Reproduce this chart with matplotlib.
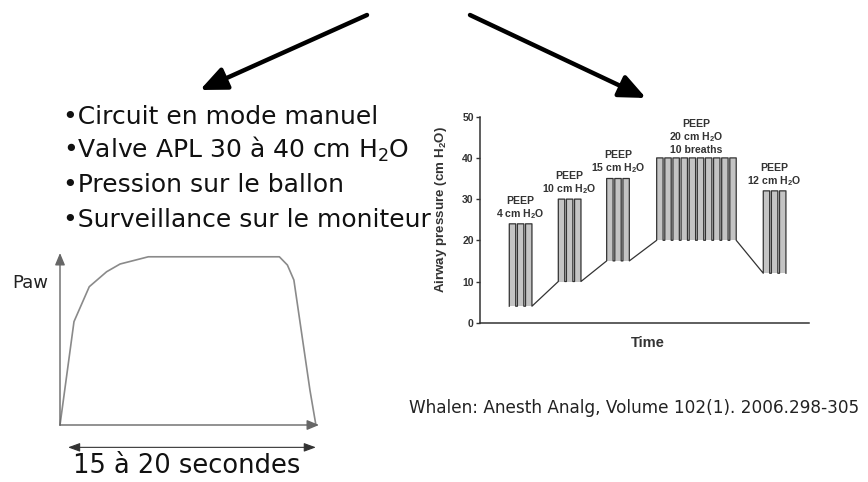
import matplotlib
matplotlib.use("Agg")
import matplotlib.pyplot as plt
import numpy as np

plt.rcParams["mathtext.default"] = "regular"

# --- data: right chart (Whalen recruitment manoeuvre) ---
group_start = [8.9, 23.8, 38.5, 53.7, 86.1]     # time (arbitrary units)
peep = [4, 10, 15, 20, 12]                      # cm H2O
peak = [24, 30, 35, 40, 32]                     # cm H2O
n_breaths = [3, 3, 3, 10, 3]
group_labels = [
    "PEEP\n4 cm H$_2$O",
    "PEEP\n10 cm H$_2$O",
    "PEEP\n15 cm H$_2$O",
    "PEEP\n20 cm H$_2$O\n10 breaths",
    "PEEP\n12 cm H$_2$O",
]
breath_len = 1.95
pause_len = 0.52
y_ticks = [0, 10, 20, 30, 40, 50]

# --- data: left sketch (Paw vs time) ---
paw_t = [0, 5.4, 11.3, 18.0, 23.2, 34.1, 84.7, 87.8, 90.3, 96.5, 98.8]
paw_p = [0, 60.1, 80.4, 89.1, 93.6, 97.8, 97.8, 93.0, 84.3, 20.3, 0]

bullets = [
    "•Circuit en mode manuel",
    "•Valve APL 30 à 40 cm H$_2$O",
    "•Pression sur le ballon",
    "•Surveillance sur le moniteur",
]
citation = "Whalen: Anesth Analg, Volume 102(1). 2006.298-305"

fig = plt.figure(figsize=(8.68, 4.82), dpi=100)

# background axes in pixel coordinates for the slide text and arrows
bg = fig.add_axes([0, 0, 1, 1])
bg.set_xlim(0, 868)
bg.set_ylim(482, 0)
bg.axis("off")

arrow_kw = dict(arrowstyle="-|>,head_length=0.8,head_width=0.35",
                lw=3.2, color="black", mutation_scale=20,
                shrinkA=0, shrinkB=0)
bg.annotate("", xy=(200, 90), xytext=(367, 15), arrowprops=arrow_kw)
bg.annotate("", xy=(646, 98), xytext=(470, 15), arrowprops=arrow_kw)

baselines = [123.5, 158, 192.5, 227]
for txt, yb in zip(bullets, baselines):
    bg.text(63, yb, txt, fontsize=18, family="DejaVu Sans",
            color="#111", ha="left", va="baseline")

bg.text(409, 413.3, citation, fontsize=12.2, family="DejaVu Sans",
        color="#222", ha="left", va="baseline")

# --- right chart ---
ax = fig.add_axes([480 / 868, (482 - 322.7) / 482, 329 / 868, 206 / 482])
ax.set_facecolor("none")
ax.set_xlim(0, 100)
ax.set_ylim(0, 50)

xs, ys = [], []
for t0, lo, hi, n, lab in zip(group_start, peep, peak, n_breaths, group_labels):
    t = t0
    for i in range(n):
        ax.fill_between([t, t + breath_len], lo, hi, color="#c4c4c4", lw=0)
        xs += [t, t, t + breath_len, t + breath_len]
        ys += [lo, hi, hi, lo]
        t += breath_len
        if i < n - 1:
            t += pause_len
    mid = (t0 + t) / 2
    ax.text(mid, hi + 0.8, lab, ha="center", va="bottom", fontsize=7.6,
            family="Liberation Sans", fontweight="bold", color="#333",
            linespacing=1.1)
ax.plot(xs, ys, color="#333", lw=0.9)

for s in ["top", "right"]:
    ax.spines[s].set_visible(False)
for s in ["left", "bottom"]:
    ax.spines[s].set_linewidth(1.1)
    ax.spines[s].set_color("#333")
ax.set_xticks([])
ax.set_yticks(y_ticks, labels=[str(v) for v in y_ticks], fontsize=7.5,
              fontweight="bold", family="Liberation Sans", color="#333")
ax.tick_params(axis="y", direction="out", length=3, width=1, pad=1.5,
               color="#333")
ax.set_ylabel("Airway pressure (cm H$_2$O)", fontsize=9.6, fontweight="bold",
              family="Liberation Sans", color="#333")
ax.yaxis.set_label_coords(-0.095, 0.55)
ax.set_xlabel("Time", fontsize=10.5, fontweight="bold",
              family="Liberation Sans", color="#333")
ax.xaxis.set_label_coords(0.51, -0.065)

# --- left sketch ---
px = fig.add_axes([60 / 868, (482 - 425) / 482, 259 / 868, 172 / 482])
px.set_xlim(0, 100)
px.set_ylim(0, 100)
px.axis("off")
px.plot(paw_t, paw_p, color="#8a8a8a", lw=1.2, clip_on=False)
ax_arrow = dict(arrowstyle="-|>,head_length=0.6,head_width=0.25",
                color="#666", lw=1.0, mutation_scale=12,
                shrinkA=0, shrinkB=0)
px.annotate("", xy=(0, 100), xytext=(0, 0), arrowprops=ax_arrow,
            annotation_clip=False)
px.annotate("", xy=(100, 0), xytext=(0, 0), arrowprops=ax_arrow,
            annotation_clip=False)
px.annotate("", xy=(98.8, -13), xytext=(3.1, -13),
            arrowprops=dict(arrowstyle="<|-|>,head_length=0.6,head_width=0.22",
                            color="#333", lw=0.8, mutation_scale=12,
                            shrinkA=0, shrinkB=0),
            annotation_clip=False)
px.text(-11.6, 82.6, "Paw", fontsize=13, family="DejaVu Sans", color="#222",
        ha="center", va="center")
px.text(48.9, -27.9, "15 à 20 secondes", fontsize=18.5, family="DejaVu Sans",
        color="#111", ha="center", va="baseline")

fig.savefig("out.png", dpi=100)
